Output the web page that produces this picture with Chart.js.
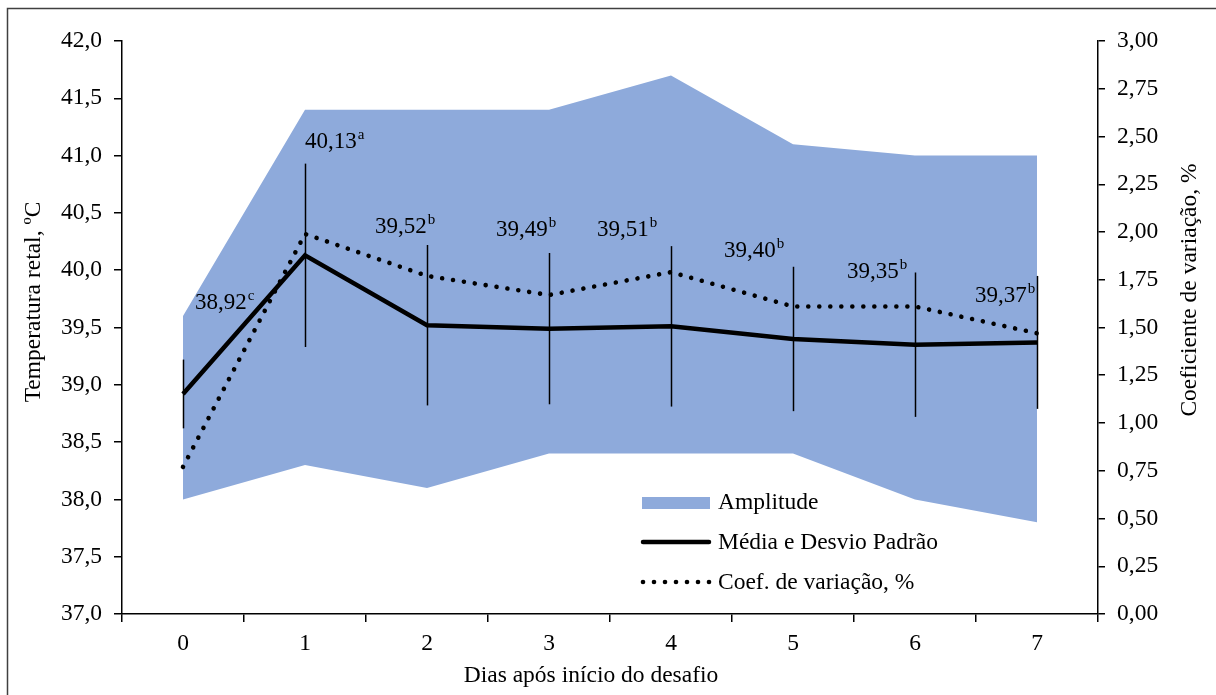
<!DOCTYPE html>
<html lang="pt">
  <head>
    <meta charset="utf-8" />
    <title>Temperatura retal</title>
    <style>
      body { margin: 0; background: #fff; }
      #wrap { width: 1216px; height: 695px; position: relative; }
    </style>
  </head>
  <body>
    <div id="wrap"><canvas id="myChart"></canvas></div>
    <script src="https://cdn.jsdelivr.net/npm/chart.js"></script>
    <script>
      // dados
      const days = ["0", "1", "2", "3", "4", "5", "6", "7"];
      const tempMin = [38.0, 38.3, 38.1, 38.4, 38.4, 38.4, 38.0, 37.8];
      const tempMax = [39.6, 41.4, 41.4, 41.4, 41.7, 41.1, 41.0, 41.0];
      const tempMean = [38.92, 40.13, 39.52, 39.49, 39.51, 39.40, 39.35, 39.37];
      const tempSd = [0.30, 0.80, 0.70, 0.66, 0.70, 0.63, 0.63, 0.58];
      const coefVar = [0.77, 1.99, 1.77, 1.67, 1.79, 1.61, 1.61, 1.47];
      const letters = ["c", "a", "b", "b", "b", "b", "b", "b"];

      // deslocamento dos rótulos (px) em relação ao ponto
      const labelOffsets = [
        [12, -91], [0, -113], [-52, -98], [-53, -99],
        [-74, -96], [-69, -88], [-68, -73], [-62, -46],
      ];

      const FONT = "'Liberation Serif', 'Times New Roman', serif";
      const FS = 23.5;
      const BLUE = "#8eaadb";

      const extras = {
        id: "extras",
        afterDatasetsDraw(chart) {
          const c = chart.ctx;
          const x = chart.scales.x, y = chart.scales.y;
          c.save();
          // barras de desvio padrão
          c.strokeStyle = "#000";
          c.lineWidth = 1.5;
          tempMean.forEach((m, i) => {
            const px = Math.round(x.getPixelForValue(i)) + 0.5;
            c.beginPath();
            c.moveTo(px, y.getPixelForValue(m - tempSd[i]));
            c.lineTo(px, y.getPixelForValue(m + tempSd[i]));
            c.stroke();
          });
          // rótulos das médias
          c.fillStyle = "#000";
          c.textBaseline = "middle";
          c.textAlign = "left";
          tempMean.forEach((m, i) => {
            const px = x.getPixelForValue(i) + labelOffsets[i][0];
            const py = y.getPixelForValue(m) + labelOffsets[i][1];
            const txt = m.toFixed(2).replace(".", ",");
            c.font = "23px " + FONT;
            c.fillText(txt, px, py);
            const w = c.measureText(txt).width;
            c.font = "15px " + FONT;
            c.fillText(letters[i], px + w + 1, py - 7);
          });
          c.restore();
        },
        afterDraw(chart) {
          const c = chart.ctx;
          c.save();
          // legenda
          c.fillStyle = BLUE;
          c.fillRect(642, 497, 68, 12);
          c.strokeStyle = "#000";
          c.lineCap = "round";
          c.lineWidth = 4.5;
          c.beginPath();
          c.moveTo(643, 542);
          c.lineTo(709, 542);
          c.stroke();
          c.fillStyle = "#000";
          for (let i = 0; i < 7; i++) {
            c.beginPath();
            c.arc(643 + i * 11, 582, 2.3, 0, Math.PI * 2);
            c.fill();
          }
          c.font = FS + "px " + FONT;
          c.textBaseline = "middle";
          c.textAlign = "left";
          c.fillText("Amplitude", 718, 503);
          c.fillText("Média e Desvio Padrão", 718, 543);
          c.fillText("Coef. de variação, %", 718, 583);

          // títulos dos eixos
          c.textAlign = "center";
          c.fillText("Dias após início do desafio", 591, 676);
          c.save();
          c.translate(34, 302);
          c.rotate(-Math.PI / 2);
          c.fillText("Temperatura retal, ºC", 0, 0);
          c.restore();
          c.save();
          c.translate(1190, 290);
          c.rotate(-Math.PI / 2);
          c.fillText("Coeficiente de variação, %", 0, 0);
          c.restore();

          // moldura
          c.strokeStyle = "#404040";
          c.lineWidth = 1.5;
          c.strokeRect(7.5, 8.5, 1230, 720);
          c.restore();
        },
      };

      const ctx = document.getElementById("myChart");

      new Chart(ctx, {
        type: "line",
        data: {
          labels: days,
          datasets: [
            {
              label: "Média e Desvio Padrão",
              data: tempMean,
              borderColor: "#000",
              borderWidth: 4.5,
              pointRadius: 0,
              tension: 0,
              yAxisID: "y",
            },
            {
              label: "Coef. de variação, %",
              data: coefVar,
              borderColor: "#000",
              borderWidth: 4.6,
              borderDash: [0.01, 11],
              borderCapStyle: "round",
              pointRadius: 0,
              tension: 0,
              yAxisID: "y1",
            },
            {
              label: "min",
              data: tempMin,
              borderWidth: 0,
              pointRadius: 0,
              fill: false,
              yAxisID: "y",
            },
            {
              label: "Amplitude",
              data: tempMax,
              borderWidth: 0,
              pointRadius: 0,
              backgroundColor: BLUE,
              fill: "-1",
              yAxisID: "y",
            },
          ],
        },
        options: {
          responsive: true,
          maintainAspectRatio: false,
          animation: false,
          layout: { padding: { left: 8, top: 41, right: 0, bottom: 0 } },
          plugins: {
            legend: { display: false },
            tooltip: { enabled: false },
          },
          scales: {
            x: {
              offset: true,
              grid: { offset: true, drawOnChartArea: false, tickLength: 8, color: "#000", lineWidth: 1.5 },
              border: { color: "#000", width: 1.5 },
              ticks: { color: "#000", font: { family: FONT, size: FS }, padding: 8 },
              afterFit(s) { s.height = 81; },
            },
            y: {
              position: "left",
              min: 37,
              max: 42,
              grid: { drawOnChartArea: false, tickLength: 8, color: "#000", lineWidth: 1.5 },
              border: { color: "#000", width: 1.5 },
              ticks: {
                stepSize: 0.5,
                color: "#000",
                padding: 12,
                font: { family: FONT, size: FS },
                callback: (v) => v.toFixed(1).replace(".", ","),
              },
              afterFit(s) { s.width = 114; },
            },
            y1: {
              position: "right",
              min: 0,
              max: 3,
              grid: { drawOnChartArea: false, tickLength: 7, color: "#000", lineWidth: 1.5 },
              border: { color: "#000", width: 1.5 },
              ticks: {
                stepSize: 0.25,
                color: "#000",
                padding: 12,
                font: { family: FONT, size: FS },
                callback: (v) => v.toFixed(2).replace(".", ","),
              },
              afterFit(s) { s.width = 118; },
            },
          },
        },
        plugins: [extras],
      });
    </script>
  </body>
</html>
